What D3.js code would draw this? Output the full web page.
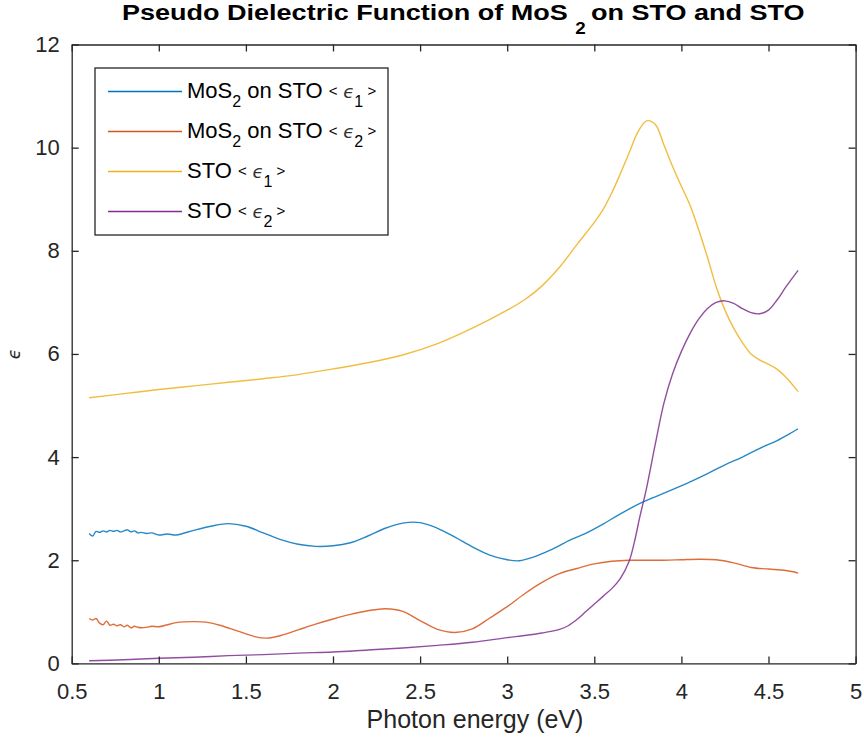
<!DOCTYPE html>
<html>
<head>
<meta charset="utf-8">
<script src="https://cdn.jsdelivr.net/npm/d3@7"></script>
<style>
  body { margin: 0; background: #fff; }
  svg { display: block; }
  text { font-family: "Liberation Sans", Arial, sans-serif; }
</style>
</head>
<body>
<svg id="chart" width="864" height="749"></svg>
<script>
// ---------------- DATA ----------------
const xTicks = [0.5, 1, 1.5, 2, 2.5, 3, 3.5, 4, 4.5, 5];
const yTicks = [0, 2, 4, 6, 8, 10, 12];

const mosE1X = [0.60,0.62,0.64,0.66,0.68,0.70,0.72,0.74,0.76,0.78,0.80,0.82,0.84,0.86,0.88,0.90,0.93,0.96,1.00,1.05,1.10,1.20,1.30,1.40,1.50,1.60,1.70,1.80,1.90,2.00,2.10,2.20,2.30,2.40,2.50,2.60,2.70,2.80,2.90,3.00,3.07,3.15,3.25,3.36,3.45,3.55,3.65,3.78,3.90,4.05,4.15,4.25,4.35,4.45,4.55,4.62,4.67];
const mosE1Y = [2.52,2.47,2.56,2.54,2.57,2.55,2.58,2.56,2.58,2.55,2.57,2.59,2.55,2.57,2.53,2.54,2.52,2.53,2.49,2.51,2.49,2.58,2.66,2.71,2.66,2.53,2.40,2.31,2.27,2.28,2.34,2.47,2.62,2.72,2.73,2.62,2.45,2.26,2.10,2.01,1.99,2.06,2.20,2.39,2.52,2.70,2.90,3.13,3.30,3.52,3.68,3.85,4.00,4.17,4.32,4.45,4.55];

const mosE2X = [0.60,0.62,0.64,0.66,0.68,0.70,0.72,0.74,0.76,0.78,0.80,0.82,0.84,0.86,0.88,0.90,0.93,0.96,1.00,1.05,1.10,1.20,1.27,1.35,1.45,1.55,1.62,1.70,1.80,1.90,2.00,2.10,2.20,2.30,2.40,2.50,2.60,2.70,2.80,2.90,3.00,3.10,3.20,3.30,3.40,3.50,3.60,3.70,3.80,3.90,4.00,4.10,4.20,4.30,4.40,4.50,4.60,4.67];
const mosE2Y = [0.87,0.84,0.87,0.78,0.75,0.82,0.74,0.76,0.73,0.75,0.71,0.74,0.69,0.72,0.70,0.69,0.70,0.72,0.71,0.75,0.79,0.81,0.80,0.74,0.63,0.52,0.49,0.54,0.65,0.76,0.86,0.95,1.02,1.06,1.01,0.83,0.66,0.60,0.67,0.88,1.10,1.35,1.57,1.74,1.84,1.93,1.98,2.00,2.00,2.00,2.01,2.02,2.01,1.95,1.86,1.83,1.80,1.75];

const stoE1X = [0.6,0.8,1.0,1.2,1.4,1.6,1.8,2.0,2.2,2.4,2.6,2.8,3.0,3.1,3.2,3.3,3.4,3.5,3.55,3.6,3.65,3.7,3.75,3.8,3.85,3.9,3.95,4.0,4.05,4.1,4.15,4.2,4.25,4.3,4.35,4.4,4.45,4.5,4.55,4.6,4.67];
const stoE1Y = [5.15,5.23,5.31,5.38,5.45,5.52,5.60,5.71,5.83,5.98,6.20,6.50,6.85,7.05,7.32,7.68,8.12,8.55,8.80,9.12,9.50,9.90,10.30,10.52,10.45,10.05,9.63,9.25,8.88,8.40,7.87,7.30,6.85,6.50,6.22,6.00,5.88,5.80,5.70,5.55,5.27];

const stoE2X = [0.6,0.8,1.0,1.2,1.4,1.6,1.8,2.0,2.2,2.4,2.6,2.8,3.0,3.1,3.2,3.3,3.35,3.4,3.45,3.5,3.55,3.6,3.65,3.7,3.73,3.76,3.8,3.85,3.9,3.95,4.0,4.05,4.1,4.15,4.2,4.25,4.3,4.35,4.4,4.45,4.5,4.55,4.6,4.67];
const stoE2Y = [0.05,0.07,0.10,0.12,0.15,0.17,0.20,0.22,0.26,0.30,0.35,0.41,0.50,0.54,0.59,0.66,0.73,0.85,1.00,1.15,1.30,1.45,1.65,1.98,2.35,2.82,3.40,4.25,5.05,5.62,6.05,6.40,6.68,6.88,7.00,7.03,6.98,6.88,6.80,6.78,6.85,7.05,7.30,7.62];

const legendLabels = ["MoS2 on STO", "MoS2 on STO", "STO", "STO"];
const legendIdx = ["1", "2", "1", "2"];
const colors = ["#0072BD", "#D95319", "#EDB120", "#7E2F8E"];

// ---------------- LAYOUT ----------------
const svg = d3.select("#chart");
const L = 71.7, R = 855.6, T = 44.5, B = 663.4;
const x = d3.scaleLinear().domain([0.5, 5]).range([L, R]);
const y = d3.scaleLinear().domain([0, 12]).range([B, T]);
const axisColor = "#262626";

const series = [
  {x: mosE1X, y: mosE1Y},
  {x: mosE2X, y: mosE2Y},
  {x: stoE1X, y: stoE1Y},
  {x: stoE2X, y: stoE2Y}
];

svg.append("rect").attr("x", L).attr("y", T).attr("width", R - L).attr("height", B - T)
  .attr("fill", "#fff");

// lines
const line = d3.line().x(d => x(d[0])).y(d => y(d[1])).curve(d3.curveCatmullRom.alpha(0.5));
series.forEach((s, i) => {
  const pts = s.x.map((v, j) => [v, s.y[j]]);
  svg.append("path").datum(pts).attr("d", line)
    .attr("fill", "none").attr("stroke", colors[i]).attr("stroke-width", 1.4)
    .attr("stroke-opacity", 0.85);
});

// axes (inward ticks, MATLAB style)
const tickLen = 7;
const fmt = d3.format("~g");
const axB = d3.axisBottom(x).tickValues(xTicks).tickSizeInner(-tickLen).tickSizeOuter(0).tickPadding(20).tickFormat(fmt);
const axT = d3.axisTop(x).tickValues(xTicks).tickSizeInner(-tickLen).tickSizeOuter(0).tickFormat("");
const axLft = d3.axisLeft(y).tickValues(yTicks).tickSizeInner(-tickLen).tickSizeOuter(0).tickPadding(12).tickFormat(fmt);
const axRt = d3.axisRight(y).tickValues(yTicks).tickSizeInner(-tickLen).tickSizeOuter(0).tickFormat("");

function styleAxis(g) {
  g.select(".domain").attr("stroke", axisColor).attr("stroke-width", 1.3);
  g.selectAll(".tick line").attr("stroke", axisColor).attr("stroke-width", 1.3);
  g.selectAll(".tick text").attr("fill", axisColor).style("font-size", "22px")
    .style("font-family", '"Liberation Sans", Arial, sans-serif');
}
svg.append("g").attr("transform", `translate(0,${B})`).call(axB).call(styleAxis);
svg.append("g").attr("transform", `translate(0,${T})`).call(axT).call(styleAxis);
svg.append("g").attr("transform", `translate(${L},0)`).call(axLft).call(styleAxis);
svg.append("g").attr("transform", `translate(${R},0)`).call(axRt).call(styleAxis);

// axis labels
svg.append("text").attr("x", 475).attr("y", 728).attr("text-anchor", "middle")
  .attr("fill", axisColor).style("font-size", "25px").text("Photon energy (eV)");
svg.append("text").attr("transform", `translate(20,354) rotate(-90)`)
  .attr("text-anchor", "middle").attr("fill", axisColor).style("font-size", "17px")
  .style("font-style", "italic").style("font-family", '"DejaVu Sans", sans-serif').text("ϵ");

// title (horizontally stretched to match)
const titleG = svg.append("g");
const title = titleG.append("text").attr("x", 0).attr("y", 0).attr("text-anchor", "start")
  .attr("fill", "#000").style("font-size", "23px").style("font-weight", "bold");
title.append("tspan").text("Pseudo Dielectric Function of MoS ");
title.append("tspan").attr("dy", 14).style("font-size", "16px").text(" 2 ");
title.append("tspan").attr("dy", -14).text(" on STO and STO");
const tw = title.node().getComputedTextLength();
const sx = (805 - 122) / tw;
titleG.attr("transform", `translate(122,20) scale(${sx},1)`);

// legend
const lg = svg.append("g");
lg.append("rect").attr("x", 95).attr("y", 68).attr("width", 293).attr("height", 167)
  .attr("fill", "#fff").attr("stroke", axisColor).attr("stroke-width", 1.3);
legendLabels.forEach((lab, i) => {
  const cy = 91.5 + i * 40;
  lg.append("line").attr("x1", 108).attr("x2", 182).attr("y1", cy).attr("y2", cy)
    .attr("stroke", colors[i]).attr("stroke-width", 1.6);
  const t = lg.append("text").attr("x", 187).attr("y", cy + 6.5).attr("fill", "#000")
    .style("font-size", "22px");
  if (lab.startsWith("MoS2")) {
    t.append("tspan").text("MoS");
    t.append("tspan").attr("dy", 9).style("font-size", "16px").text("2");
    t.append("tspan").attr("dy", -9).text(lab.slice(4) + " ");
  } else {
    t.append("tspan").text(lab + " ");
  }
  t.append("tspan").attr("dy", -2).style("font-size", "15px").text("<");
  t.append("tspan").attr("dy", 2).style("font-size", "18px").style("font-style", "italic")
    .style("font-family", '"DejaVu Sans", sans-serif').attr("fill", "#333").text(" ϵ");
  t.append("tspan").attr("dy", 9).style("font-size", "16px").text(legendIdx[i]);
  t.append("tspan").attr("dy", -11).style("font-size", "15px").text(" >");
});
</script>
</body>
</html>
